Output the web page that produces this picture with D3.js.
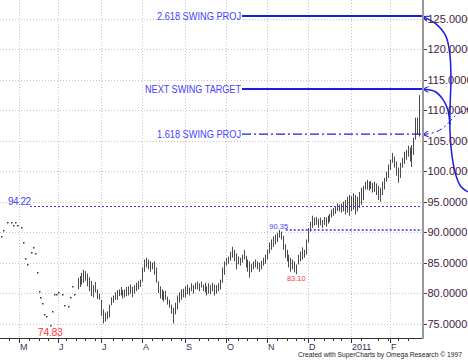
<!DOCTYPE html>
<html>
<head>
<meta charset="utf-8">
<script src="https://cdn.jsdelivr.net/npm/d3@7"></script>
<style>
  html, body { margin: 0; padding: 0; background: #fff; }
  svg { display: block; font-family: Arial, "Liberation Sans", sans-serif; }
</style>
</head>
<body>
<svg id="chart" width="468" height="363"></svg>
<script>
// trading days start Mon 19 Apr 2010, exchange holidays skipped
const startDate = new Date(2010, 3, 19)
const holidays = ['2010-05-31', '2010-07-05', '2010-09-06', '2010-11-25', '2010-12-24', '2011-01-17', '2011-02-21']
const monthTicks = ['M', 'J', 'J', 'A', 'S', 'O', 'N', 'D', '2011', 'F']
const priceTicks = [75, 80, 85, 90, 95, 100, 105, 110, 115, 120, 125]

// Apr 19 .. Jun 15: only stray prints on the chart
const dotValues = [
  null, 89.3, 90.4, null, 91.7, null, 91.6, 91.1, 91.7, 91.2,
  null, 90.9, 88.4, 85.8, 84.7, null, 86.8, 87.6, 86.6, 83.4,
  80.4, 79.4, 78.4, 76.5, 76.3, null, 74.83, 77.0, 79.9, 79.8,
  80.1, null, 79.9, 78.1, null, 77.8, 79.4, 81.1, 79.8, null
]

// daily bars from Jun 16 2010 to Feb 23 2011
const barHighs = [
  82.5, 82.8, 83.3, 83.8, 83.6, 83.2, 82.6, 82.0, 81.3, 81.8,
  80.6, 79.9, 78.9, 77.3, 76.8, 77.0, 78.1, 79.3, 79.6, 80.1,
  80.5, 80.6, 81.0, 80.5, 80.6, 81.0, 81.1, 81.4, 81.0, 81.3,
  81.7, 82.0, 82.2, 84.2, 85.5, 85.8, 85.5, 85.2, 85.0, 85.2,
  84.2, 81.9, 81.1, 80.6, 80.3, 80.4, 79.4, 78.9, 78.1, 77.6,
  78.4, 79.6, 80.1, 80.6, 80.7, 81.1, 81.4, 80.9, 81.6, 81.3,
  81.7, 81.9, 81.6, 81.9, 81.4, 81.7, 81.1, 81.6, 81.3, 81.7,
  81.4, 81.3, 81.6, 82.2, 84.2, 85.2, 85.8, 86.0, 86.8, 87.6,
  87.1, 86.5, 86.0, 85.8, 86.3, 87.1, 86.1, 85.5, 85.2, 84.8,
  85.2, 85.5, 85.2, 85.0, 85.3, 85.8, 86.3, 87.1, 88.3, 88.8,
  89.3, 89.6, 89.9, 90.35, 90.1, 89.4, 88.0, 87.1, 86.3, 85.8,
  85.5, 85.2, 84.7, 86.3, 86.8, 87.5, 87.1, 88.8, 90.7, 91.7,
  92.7, 92.4, 92.5, 92.2, 92.4, 92.0, 92.5, 92.4, 92.7, 93.0,
  93.7, 94.0, 94.3, 94.7, 94.5, 94.7, 95.0, 95.3, 95.8, 96.1,
  95.9, 96.4, 96.1, 95.8, 96.6, 97.3, 97.6, 98.3, 98.6, 98.3,
  98.4, 98.1, 98.3, 98.0, 97.6, 97.3, 98.3, 98.9, 99.9, 101.1,
  101.9, 103.0, 102.4, 101.6, 100.6, 101.4, 102.2, 103.2, 103.5, 104.2,
  103.9, 104.3, 105.5, 108.8, 108.8, 112.5
]
const barLows = [
  80.6, 81.0, 81.4, 81.7, 82.0, 81.1, 80.3, 79.5, 79.3, 80.1,
  79.0, 78.9, 76.3, 75.0, 75.3, 75.7, 76.0, 78.0, 78.4, 78.9,
  78.9, 79.5, 79.6, 79.1, 79.3, 79.5, 79.6, 79.9, 79.3, 79.9,
  80.3, 80.6, 81.0, 81.9, 83.5, 84.2, 83.9, 83.5, 83.9, 83.0,
  81.7, 80.0, 79.1, 78.9, 78.6, 78.9, 78.1, 77.6, 76.6, 75.0,
  76.5, 77.3, 78.4, 78.9, 79.3, 79.3, 79.8, 79.6, 80.3, 79.9,
  80.6, 80.6, 80.3, 80.9, 80.3, 80.1, 79.6, 79.9, 79.8, 80.3,
  79.6, 79.9, 80.3, 80.6, 81.7, 83.0, 84.5, 84.8, 85.3, 85.8,
  85.2, 83.9, 84.7, 84.5, 85.0, 85.5, 84.2, 83.5, 82.5, 83.4,
  83.9, 84.2, 83.9, 83.5, 83.9, 84.5, 84.8, 85.5, 86.5, 87.1,
  87.6, 88.0, 88.4, 89.1, 88.8, 87.1, 85.8, 85.2, 84.2, 83.5,
  83.9, 83.4, 83.1, 84.7, 85.2, 85.5, 85.8, 86.3, 88.3, 90.1,
  90.7, 91.1, 91.2, 90.7, 91.1, 90.7, 91.2, 90.9, 91.4, 91.7,
  92.4, 92.7, 93.0, 93.5, 93.4, 93.2, 93.4, 92.9, 93.2, 92.7,
  93.4, 93.7, 92.9, 93.4, 94.0, 94.5, 95.3, 97.0, 97.0, 96.8,
  97.1, 96.5, 96.6, 96.1, 95.3, 95.0, 96.1, 97.0, 98.3, 98.9,
  100.2, 101.4, 100.6, 99.3, 98.1, 98.9, 100.6, 101.2, 101.9, 102.4,
  101.6, 100.7, 102.7, 105.2, 106.0, 105.7
]

// swing pivots marked on the chart: [bar index, price]
const swingHighs = [[-8, 94.22], [143, 90.35]]
const swingLows = [[26, 74.83], [152, 83.10]]

// projection levels and their labels
const projLevels = [125.5, 113.5, 106.1]
const projLabels = ['2.618 SWING PROJ', 'NEXT SWING TARGET', '1.618 SWING PROJ']

// hand-drawn arrows right of the price axis: [bar index, price]
const arrowBig = [[216.8, 125.4], [223.5, 124.2], [228.6, 122.2], [230.7, 119.1], [231.2, 115.0],
  [230.8, 110.9], [230.7, 106.8], [231.7, 102.7], [233.7, 99.4], [236.3, 97.5], [239.9, 96.6]]
const arrowTarget = [[216.8, 113.5], [223, 113.1], [227.1, 111.8], [229.6, 110.1], [230.7, 107.6]]
const arrowProj = [[216.8, 106.0], [223, 106.4], [227.6, 107.2], [230.7, 108.2], [234.1, 109.3], [239.9, 110.3]]

const svg = d3.select('#chart')
const dims = { width: 468, height: 363, plotRight: 422, axisY: 338 }
const blue = '#1c1ce8'
const blueText = '#4343ff'
const red = '#ff3838'

const fmtDay = d3.timeFormat('%Y-%m-%d')
const barCount = dotValues.length + barHighs.length
const days = []
for (let d = new Date(startDate); days.length < barCount; d = d3.timeDay.offset(d, 1)) {
  if (d.getDay() === 0 || d.getDay() === 6 || holidays.includes(fmtDay(d))) continue
  days.push(d)
}
const monthStarts = days
  .map((d, i) => i)
  .filter(i => i > 0 && days[i].getMonth() !== days[i - 1].getMonth())
const mondays = days.map((d, i) => i).filter(i => days[i].getDay() === 1)

// index 10 = May 3, index 200 = Feb 1
const xScale = d3.scaleLinear().domain([10, 200]).range([19, 390])
const yScale = d3.scaleLinear().domain([75, 125]).range([323.5, 19])
const px = v => Math.round(v) + 0.5

function renderGrid() {
  const g = svg.append('g').attr('class', 'grid')
  g.selectAll('.hgrid')
    .data(priceTicks)
    .enter().append('line')
    .attr('x1', 0)
    .attr('x2', dims.plotRight)
    .attr('y1', d => px(yScale(d)))
    .attr('y2', d => px(yScale(d)))
    .attr('stroke', '#c4c4c4')
    .attr('stroke-dasharray', '1,2')
  g.selectAll('.vgrid')
    .data(monthStarts)
    .enter().append('line')
    .attr('x1', d => px(xScale(d)))
    .attr('x2', d => px(xScale(d)))
    .attr('y1', 0)
    .attr('y2', dims.axisY)
    .attr('stroke', '#c4c4c4')
    .attr('stroke-dasharray', '1,2')
}

function renderPrices() {
  const dots = dotValues.map((v, i) => ({ i, v })).filter(d => d.v !== null)
  svg.append('g').selectAll('rect')
    .data(dots)
    .enter().append('rect')
    .attr('x', d => Math.round(xScale(d.i)))
    .attr('y', d => Math.round(yScale(d.v)))
    .attr('width', 1.5)
    .attr('height', 1.5)
    .attr('fill', '#3a3a3a')

  const offset = dotValues.length
  const bars = barHighs.map((h, k) => ({ i: k + offset, h, l: barLows[k] }))
  svg.append('g').selectAll('line')
    .data(bars)
    .enter().append('line')
    .attr('x1', d => px(xScale(d.i)))
    .attr('x2', d => px(xScale(d.i)))
    .attr('y1', d => yScale(d.h))
    .attr('y2', d => yScale(d.l))
    .attr('stroke', '#4a4a4a')
    .attr('stroke-width', 1)
}

function renderSwingMarks() {
  const g = svg.append('g').attr('class', 'swings')
  // 94.22 level
  g.append('line')
    .attr('x1', 30)
    .attr('x2', dims.plotRight)
    .attr('y1', px(yScale(swingHighs[0][1])))
    .attr('y2', px(yScale(swingHighs[0][1])))
    .attr('stroke', '#3434ff')
    .attr('stroke-dasharray', '2,2')
  g.append('text')
    .attr('x', 8)
    .attr('y', yScale(swingHighs[0][1]) - 1)
    .attr('font-size', '10px')
    .attr('letter-spacing', '-0.5px')
    .attr('fill', blueText)
    .text(swingHighs[0][1].toFixed(2))
  // 90.35 level
  g.append('line')
    .attr('x1', xScale(swingHighs[1][0]) + 7)
    .attr('x2', dims.plotRight)
    .attr('y1', yScale(swingHighs[1][1]))
    .attr('y2', yScale(swingHighs[1][1]))
    .attr('stroke', '#3434ff')
    .attr('stroke-width', 1.6)
    .attr('stroke-dasharray', '2,2')
  g.append('text')
    .attr('x', xScale(swingHighs[1][0]))
    .attr('y', yScale(swingHighs[1][1]) - 1.5)
    .attr('text-anchor', 'middle')
    .attr('font-size', '7.5px')
    .attr('fill', blueText)
    .text(swingHighs[1][1].toFixed(2))

  g.selectAll('.low-label')
    .data(swingLows)
    .enter().append('text')
    .attr('x', d => xScale(d[0]))
    .attr('y', (d, i) => yScale(d[1]) + (i === 0 ? 11 : 7))
    .attr('text-anchor', 'middle')
    .attr('font-size', (d, i) => i === 0 ? '10.5px' : '7.5px')
    .attr('letter-spacing', (d, i) => i === 0 ? '-0.3px' : '0px')
    .attr('fill', red)
    .text(d => d[1].toFixed(2))
}

function renderProjections() {
  const g = svg.append('g').attr('class', 'projections')
  const labelX = [157, 145, 157]
  const labelW = [84, 96, 84]
  projLevels.forEach((v, i) => {
    const y = yScale(v)
    g.append('line')
      .attr('x1', 242)
      .attr('x2', dims.plotRight)
      .attr('y1', y)
      .attr('y2', y)
      .attr('stroke', blue)
      .attr('stroke-width', i === 2 ? 1.2 : 2)
      .attr('stroke-dasharray', i === 2 ? '9,3,2,3' : null)
    g.append('text')
      .attr('x', labelX[i])
      .attr('y', y + 3.6)
      .attr('font-size', '10px')
      .attr('textLength', labelW[i])
      .attr('lengthAdjust', 'spacingAndGlyphs')
      .attr('fill', blueText)
      .text(projLabels[i])
  })

  const defs = svg.append('defs')
  defs.append('marker')
    .attr('id', 'chevron')
    .attr('viewBox', '0 0 10 10')
    .attr('refX', 9)
    .attr('refY', 5)
    .attr('markerWidth', 7)
    .attr('markerHeight', 7)
    .attr('markerUnits', 'userSpaceOnUse')
    .attr('orient', 'auto-start-reverse')
    .append('path')
    .attr('d', 'M1,1 L9,5 L1,9')
    .attr('fill', 'none')
    .attr('stroke', blue)
    .attr('stroke-width', 1.4)

  const curve = d3.line()
    .x(d => xScale(d[0]))
    .y(d => yScale(d[1]))
    .curve(d3.curveCatmullRom)

  g.append('path')
    .datum(arrowBig)
    .attr('d', curve)
    .attr('fill', 'none')
    .attr('stroke', blue)
    .attr('stroke-width', 1.5)
    .attr('marker-start', 'url(#chevron)')
  g.append('path')
    .datum(arrowTarget)
    .attr('d', curve)
    .attr('fill', 'none')
    .attr('stroke', blue)
    .attr('stroke-width', 1.5)
    .attr('marker-start', 'url(#chevron)')
  g.append('path')
    .datum(arrowProj)
    .attr('d', curve)
    .attr('fill', 'none')
    .attr('stroke', blue)
    .attr('stroke-width', 1)
    .attr('stroke-dasharray', '6,3,2,3')
    .attr('marker-start', 'url(#chevron)')
}

function renderAxes() {
  const g = svg.append('g').attr('class', 'axes')
  g.append('line')
    .attr('x1', 0)
    .attr('x2', dims.plotRight)
    .attr('y1', dims.axisY + 0.5)
    .attr('y2', dims.axisY + 0.5)
    .attr('stroke', '#333')
  g.append('line')
    .attr('x1', dims.plotRight + 1)
    .attr('x2', dims.plotRight + 1)
    .attr('y1', 0)
    .attr('y2', dims.axisY + 1)
    .attr('stroke', '#9a9a9a')
    .attr('stroke-width', 2)

  // price ticks and labels
  g.selectAll('.ytick')
    .data(priceTicks)
    .enter().append('line')
    .attr('x1', dims.plotRight + 2)
    .attr('x2', dims.plotRight + 5)
    .attr('y1', d => px(yScale(d)))
    .attr('y2', d => px(yScale(d)))
    .attr('stroke', '#444')
  g.selectAll('.ylabel')
    .data(priceTicks)
    .enter().append('text')
    .attr('x', dims.plotRight + 5.5)
    .attr('y', d => yScale(d) + 4)
    .attr('font-size', '11px')
    .attr('fill', '#3f2242')
    .text(d => d3.format('.4f')(d))

  // weekly and monthly ticks
  g.selectAll('.wtick')
    .data(mondays)
    .enter().append('line')
    .attr('x1', d => px(xScale(d)))
    .attr('x2', d => px(xScale(d)))
    .attr('y1', dims.axisY + 1)
    .attr('y2', dims.axisY + 3)
    .attr('stroke', '#333')
  g.selectAll('.mtick')
    .data(monthStarts)
    .enter().append('line')
    .attr('x1', d => px(xScale(d)))
    .attr('x2', d => px(xScale(d)))
    .attr('y1', dims.axisY + 1)
    .attr('y2', dims.axisY + 5)
    .attr('stroke', '#333')
  g.selectAll('.mlabel')
    .data(monthStarts)
    .enter().append('text')
    .attr('x', d => xScale(d) + 1)
    .attr('y', dims.axisY + 11.5)
    .attr('font-size', '9px')
    .attr('fill', '#3a2d5a')
    .text((d, i) => monthTicks[i])

  g.append('text')
    .attr('x', 298)
    .attr('y', 357)
    .attr('font-size', '8px')
    .attr('textLength', 164)
    .attr('lengthAdjust', 'spacingAndGlyphs')
    .attr('fill', '#222')
    .text('Created with SuperCharts by Omega Research \u00a9 1997')
}

renderGrid()
renderPrices()
renderSwingMarks()
renderProjections()
renderAxes()
</script>
</body>
</html>
